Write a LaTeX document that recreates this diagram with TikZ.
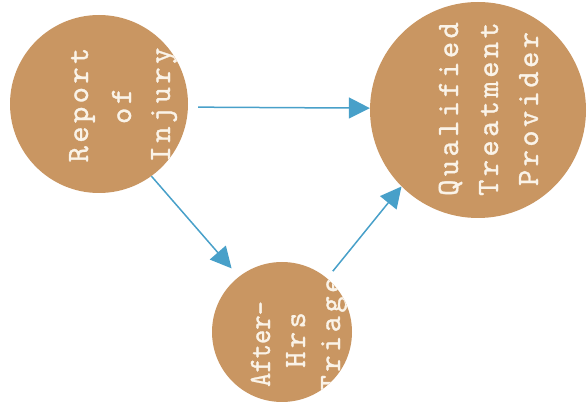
\documentclass[tikz,border=0pt]{standalone}
\usepackage{fontspec}
\setmonofont{lmmono10-regular.otf}[LetterSpace=11,FakeBold=1]
\usetikzlibrary{arrows.meta}
\definecolor{tancol}{RGB}{201,150,98}
\definecolor{txtcol}{RGB}{250,243,232}
\definecolor{arrcol}{RGB}{72,160,201}
\begin{document}
\begin{tikzpicture}[x=1pt,y=1pt,
 circ/.style={circle, fill=tancol, draw=none, inner sep=0pt},
 lbl/.style={rotate=90, anchor=base, text=txtcol, font=\ttfamily\fontsize{31}{36}\selectfont, inner sep=0pt},
 arr/.style={draw=arrcol, line width=1.5pt, -{Triangle[length=21pt,width=21pt]}}]
\useasboundingbox (0,0) rectangle (587,410);
\node[circ, minimum size=178pt] (r) at (99,306) {};
\node[circ, minimum size=216pt] (q) at (478,300) {};
\node[circ, minimum size=140pt] (t) at (282,78) {};
\begin{scope}
\clip (r.center) circle[radius=89];
\node[lbl] (r1) at (88,305) {Report};
\node[lbl] (r2) at (131,304) {of};
\node[lbl] (r3) at (170,305) {Injury};
\end{scope}
\begin{scope}
\clip (q.center) circle[radius=108];
\node[lbl] (q1) at (458,301) {Qualified};
\node[lbl] (q2) at (498,301) {Treatment};
\node[lbl] (q3) at (538,301) {Provider};
\end{scope}
\begin{scope}
\clip (t.center) circle[radius=70];
\node[lbl] (t1) at (270,66) {\scalebox{0.88}[1]{\addfontfeature{LetterSpace=0}After-}};
\node[lbl] (t2) at (305,70) {Hrs};
\node[lbl] (t3) at (340,76) {Triage};
\end{scope}
\draw[arr, shorten <=10pt] (r.-2) -- (q.179);
\draw[arr, shorten >=11pt] (r.-54) -- (t.128);
\draw[arr, shorten <=9pt] (t.50) -- (q.225);
\end{tikzpicture}
\end{document}
